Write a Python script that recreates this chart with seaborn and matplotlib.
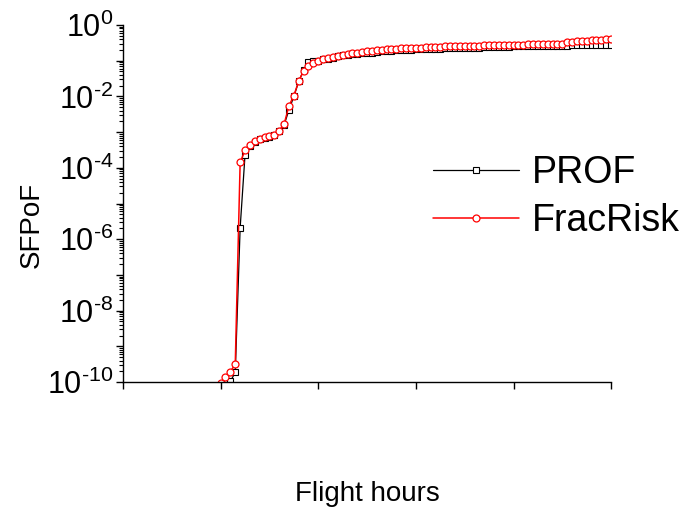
import numpy as np
import pandas as pd
import seaborn as sb
import matplotlib
matplotlib.use("Agg")
from matplotlib import pyplot as plt
from matplotlib import ticker

"""DATA (read off the reference, SFPoF given as log10 values)"""

# flight hours of the FracRisk points (every 500 h)
hours_frac = list(range(10000, 50001, 500))
log_frac = [-10.02, -9.87, -9.71, -9.50, -3.85, -3.51, -3.35, -3.26, -3.18, -3.15,
            -3.12, -3.08, -2.96, -2.78, -2.26, -1.98, -1.57, -1.28, -1.14, -1.06,
            -1.00, -0.95, -0.92, -0.89, -0.86, -0.83, -0.81, -0.79, -0.77, -0.76,
            -0.74, -0.72, -0.71, -0.70, -0.68, -0.67, -0.66, -0.65, -0.64, -0.64,
            -0.63, -0.63, -0.62, -0.62, -0.61, -0.61, -0.60, -0.60, -0.60, -0.59,
            -0.59, -0.58, -0.58, -0.58, -0.57, -0.57, -0.57, -0.56, -0.56, -0.56,
            -0.55, -0.55, -0.55, -0.54, -0.54, -0.54, -0.54, -0.53, -0.53, -0.53,
            -0.52, -0.48, -0.47, -0.46, -0.45, -0.44, -0.43, -0.42, -0.41, -0.40,
            -0.39]

# flight hours of the PROF points (every 500 h)
hours_prof = list(range(10500, 50001, 500))
log_prof = [-10.10, -9.98, -9.73, -5.68, -3.64, -3.38, -3.27, -3.19, -3.16,
            -3.13, -3.09, -2.97, -2.80, -2.38, -2.00, -1.58, -1.27, -1.04, -1.02,
            -1.00, -0.96, -0.94, -0.91, -0.88, -0.85, -0.83, -0.81, -0.80, -0.79,
            -0.78, -0.77, -0.76, -0.74, -0.73, -0.72, -0.71, -0.70, -0.69, -0.69,
            -0.68, -0.68, -0.67, -0.67, -0.66, -0.66, -0.65, -0.65, -0.65, -0.64,
            -0.64, -0.63, -0.63, -0.63, -0.62, -0.62, -0.62, -0.61, -0.61, -0.61,
            -0.60, -0.60, -0.60, -0.59, -0.59, -0.59, -0.59, -0.58, -0.58, -0.58,
            -0.58, -0.58, -0.57, -0.57, -0.57, -0.57, -0.57, -0.56, -0.56, -0.56,
            -0.56]

x_ticks = [0, 10000, 20000, 30000, 40000, 50000]

"""PLOT"""

sb.set_style("ticks")
plt.rcParams["font.family"] = ["Liberation Sans", "DejaVu Sans"]
plt.rcParams["axes.unicode_minus"] = False
plt.rcParams["text.color"] = "black"
plt.rcParams["axes.labelcolor"] = "black"
plt.rcParams["xtick.color"] = "black"
plt.rcParams["ytick.color"] = "black"

prof = pd.DataFrame({"hours": hours_prof, "sfpof": 10.0 ** np.array(log_prof)})
frac = pd.DataFrame({"hours": hours_frac, "sfpof": 10.0 ** np.array(log_frac)})

fig = plt.figure(figsize=(6.89, 5.11), dpi=100)
ax = fig.add_axes([0.1785, 0.2524, 0.7085, 0.6986])

sb.lineplot(x="hours", y="sfpof", data=prof, ax=ax, color="black", lw=0.9,
            marker="s", markersize=4.5, markerfacecolor="white",
            markeredgecolor="black", markeredgewidth=0.8, label="PROF")
sb.lineplot(x="hours", y="sfpof", data=frac, ax=ax, color="red", lw=1.1,
            marker="o", markersize=5, markerfacecolor="white",
            markeredgecolor="red", markeredgewidth=0.9, label="FracRisk")

ax.set_yscale("log")
ax.set_ylim(1e-10, 1)
ax.set_xlim(0, 50000)
ax.set_xticks(x_ticks)
ax.tick_params(axis="x", labelbottom=False, length=5, width=1, direction="out")


def decade_label(v, pos):
    # label only every second decade, with a plain hyphen in the exponent
    k = int(round(np.log10(v)))
    if k % 2:
        return ""
    return r"$\mathdefault{10^{%s}}$" % str(k).replace("-", "\u2010")


# major ticks every decade, labels every second decade
ax.yaxis.set_major_locator(ticker.FixedLocator([10.0 ** k for k in range(-10, 1)]))
ax.yaxis.set_major_formatter(ticker.FuncFormatter(decade_label))
ax.yaxis.set_minor_locator(ticker.LogLocator(base=10, subs=np.arange(2, 10), numticks=100))
ax.yaxis.set_minor_formatter(ticker.NullFormatter())
ax.tick_params(axis="y", which="major", length=5, width=1, labelsize=22, pad=2)
ax.tick_params(axis="y", which="minor", length=3, width=0.8)

for side in ["top", "right"]:
    ax.spines[side].set_visible(False)
for side in ["left", "bottom"]:
    ax.spines[side].set_linewidth(1)
    ax.spines[side].set_color("black")

ax.set_ylabel("SFPoF", fontsize=20)
ax.yaxis.set_label_coords(-0.16, 0.44)
ax.set_xlabel("Flight hours", fontsize=20, labelpad=66)

leg = ax.legend(loc="upper left", bbox_to_anchor=(0.628, 0.696),
                bbox_transform=fig.transFigure, frameon=False, fontsize=27,
                handlelength=2.3, handletextpad=0.35, labelspacing=0.31,
                borderpad=0, borderaxespad=0)

plt.savefig("out.png", dpi=100)
plt.close()
